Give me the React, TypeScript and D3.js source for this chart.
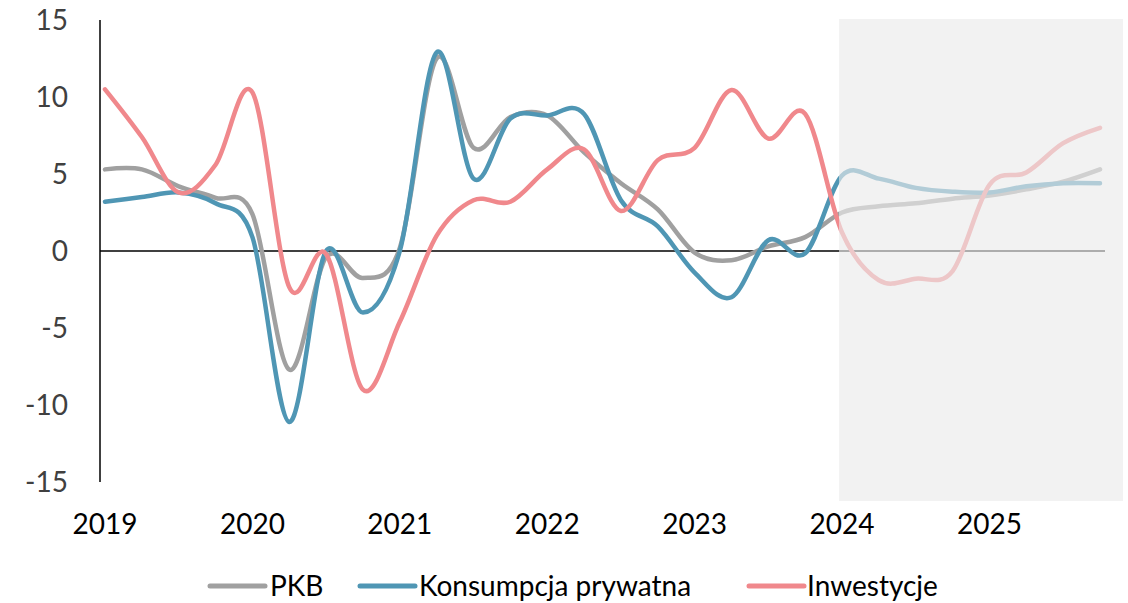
import React, { useEffect } from "react";
import * as d3 from "d3";

const quarters = [
  "2019Q1","2019Q2","2019Q3","2019Q4",
  "2020Q1","2020Q2","2020Q3","2020Q4",
  "2021Q1","2021Q2","2021Q3","2021Q4",
  "2022Q1","2022Q2","2022Q3","2022Q4",
  "2023Q1","2023Q2","2023Q3","2023Q4",
  "2024Q1","2024Q2","2024Q3","2024Q4",
  "2025Q1","2025Q2","2025Q3","2025Q4",
];

const pkb = [
  5.3, 5.3, 4.2, 3.45,
  2.4, -7.7, -0.4, -1.75,
  0.2, 12.5, 6.7, 8.7,
  8.8, 6.4, 4.4, 2.7,
  -0.1, -0.6, 0.3, 0.9,
  2.5, 2.9, 3.1, 3.4,
  3.6, 4.0, 4.5, 5.3,
];

const konsumpcja = [
  3.2, 3.5, 3.8, 3.1,
  0.9, -11.1, 0.0, -4.0,
  0.0, 12.9, 4.7, 8.6,
  8.8, 8.9, 3.3, 1.6,
  -1.4, -3.0, 0.7, -0.15,
  4.9, 4.7, 4.1, 3.85,
  3.8, 4.2, 4.4, 4.4,
];

const inwestycje = [
  10.5, 7.4, 3.8, 5.6,
  10.3, -2.35, -0.2, -9.0,
  -4.6, 1.0, 3.3, 3.2,
  5.3, 6.6, 2.6, 5.9,
  6.7, 10.45, 7.3, 8.9,
  1.2, -1.9, -1.8, -1.3,
  4.3, 5.1, 7.0, 8.0,
];

const yTicks = [15, 10, 5, 0, -5, -10, -15];
const yearLabels = ["2019", "2020", "2021", "2022", "2023", "2024", "2025"];
const forecastStart = "2024Q1";

const seriesNames = ["PKB", "Konsumpcja prywatna", "Inwestycje"];
const seriesColors = ["#a0a0a0", "#4f96b4", "#f0888c"];
const seriesData = [pkb, konsumpcja, inwestycje];

const W = 1128;
const H = 603;
const FONT = "Lato, 'Open Sans', sans-serif";

export default function App() {
  useEffect(() => {
    document.body.style.margin = "0";
  }, []);

  const x = d3.scaleLinear().domain([0, quarters.length - 1]).range([105, 1100]);
  const y = d3.scaleLinear().domain([-15, 15]).range([482, 20]);

  const line = d3
    .line<number>()
    .x((_, i) => x(i))
    .y((d) => y(d))
    .curve(d3.curveCardinal.tension(0));

  const fIdx = quarters.indexOf(forecastStart);
  const shadeX = x(fIdx) - 3;

  const legendItems = [
    { lx: 210, lw: 55, tx: 270 },
    { lx: 360, lw: 55, tx: 419 },
    { lx: 749, lw: 55, tx: 807 },
  ];

  return (
    <svg width={W} height={H} style={{ display: "block", position: "absolute", left: 0, top: 0 }} fontFamily={FONT}>
      <rect x={0} y={0} width={W} height={H} fill="#ffffff" />
      {/* y axis labels */}
      {yTicks.map((t) => (
        <text key={t} x={68} y={y(t)} dy="0.35em" textAnchor="end" fontSize={28} fill="#404040">
          {t}
        </text>
      ))}
      {/* x labels */}
      {yearLabels.map((l, i) => (
        <text key={l} x={x(i * 4)} y={534} textAnchor="middle" fontSize={28} fill="#000">
          {l}
        </text>
      ))}
      {/* axes */}
      <line x1={100} x2={100} y1={y(15)} y2={y(-15)} stroke="#000" strokeWidth={1.5} />
      <line x1={100} x2={1105} y1={y(0)} y2={y(0)} stroke="#000" strokeWidth={1.5} />
      {/* series */}
      {seriesData.map((d, i) => (
        <path
          key={seriesNames[i]}
          d={line(d) || ""}
          fill="none"
          stroke={seriesColors[i]}
          strokeWidth={4.5}
          strokeLinecap="round"
          strokeLinejoin="round"
        />
      ))}
      {/* forecast shading */}
      <rect x={shadeX} y={19} width={1123 - shadeX} height={501 - 19} fill="rgb(235,235,235)" fillOpacity={0.64} />
      {/* legend */}
      {seriesNames.map((n, i) => (
        <g key={n}>
          <line
            x1={legendItems[i].lx}
            x2={legendItems[i].lx + legendItems[i].lw}
            y1={586}
            y2={586}
            stroke={seriesColors[i]}
            strokeWidth={5}
            strokeLinecap="round"
          />
          <text x={legendItems[i].tx} y={596} fontSize={28} fill="#000">
            {n}
          </text>
        </g>
      ))}
    </svg>
  );
}
